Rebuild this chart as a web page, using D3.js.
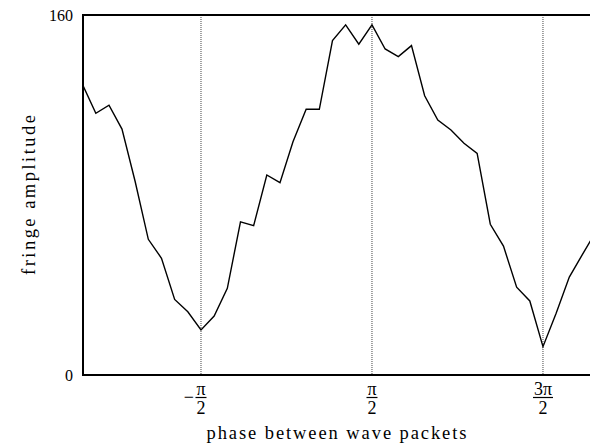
<!DOCTYPE html>
<html>
<head>
<meta charset="utf-8">
<script src="https://cdn.jsdelivr.net/npm/d3@7"></script>
<style>
  body { margin: 0; background: #fff; }
  text { font-family: "Liberation Serif", "Times New Roman", serif; fill: #000; }
</style>
</head>
<body>
<div id="fringe_chart"></div>
<script>
// phase of each measurement, in units of pi
var phases = [-1.192, -1.115, -1.038, -0.962, -0.885, -0.808, -0.731, -0.654, -0.577, -0.5,
              -0.423, -0.346, -0.269, -0.192, -0.115, -0.038, 0.038, 0.115, 0.192, 0.269,
              0.346, 0.423, 0.5, 0.577, 0.654, 0.731, 0.808, 0.885, 0.962, 1.038,
              1.115, 1.192, 1.269, 1.346, 1.423, 1.5, 1.577, 1.654, 1.731, 1.808];
// fringe amplitude
var amplitudes = [129, 116.3, 119.9, 109.3, 86, 60.3, 51.9, 33.6, 28.1, 20,
                  26.2, 38.5, 68.1, 66.4, 88.9, 85.5, 103.7, 118.1, 118.1, 148.6,
                  155.6, 147, 155.6, 144.9, 141.5, 146.4, 124.1, 113.3, 108.9, 103,
                  98.5, 67, 57.3, 39, 32.9, 12.6, 27.4, 43.5, 53.6, 63.5];
// x ticks (units of pi) and their fraction labels
var xTicks = [-0.5, 0.5, 1.5];
var xTickNum = ["\u03c0", "\u03c0", "3\u03c0"];
var xTickSign = ["\u2212", "", ""];
var yTicks = [0, 160];

function drawFringeChart() {
    var W = 590, H = 444;
    var margin = {top: 15, right: 0, bottom: 69, left: 83},
        width = W - margin.left - margin.right,
        height = H - margin.top - margin.bottom;

    var svg = d3.select("#fringe_chart")
      .append("svg")
        .attr("width", W)
        .attr("height", H)
      .append("g")
        .attr("transform", "translate(" + margin.left + "," + margin.top + ")");

    var x = d3.scaleLinear().domain([-1.19, 1.775]).range([0, width]);
    var y = d3.scaleLinear().domain([0, 160]).range([height, 0]);

    // dotted guide lines at the ticks
    svg.selectAll(".guide")
        .data(xTicks).enter()
      .append("line")
        .attr("class", "guide")
        .attr("x1", d => x(d)).attr("x2", d => x(d))
        .attr("y1", 0).attr("y2", height)
        .attr("stroke", "#444")
        .attr("stroke-width", 1)
        .attr("stroke-dasharray", "1,1");

    // clip for the curve
    svg.append("clipPath").attr("id", "clip")
      .append("rect").attr("width", width).attr("height", height);

    var data = phases.map(function(p, i) { return {p: p, v: amplitudes[i]}; });
    var line = d3.line()
        .x(d => x(d.p))
        .y(d => y(d.v));
    svg.append("path")
        .datum(data)
        .attr("clip-path", "url(#clip)")
        .attr("fill", "none")
        .attr("stroke", "#000")
        .attr("stroke-width", 1.4)
        .attr("d", line);

    // frame: left, bottom and top
    svg.append("path")
        .attr("d", "M" + (width + 5) + ",0H0V" + height + "H" + (width + 5))
        .attr("fill", "none")
        .attr("stroke", "#000")
        .attr("stroke-width", 2);

    // y labels
    svg.selectAll(".ylab")
        .data(yTicks).enter()
      .append("text")
        .attr("x", -10)
        .attr("y", d => y(d) + 5.5)
        .attr("text-anchor", "end")
        .style("font-size", "16px")
        .text(d => d);

    // x tick labels as fractions
    var tl = svg.selectAll(".xlab")
        .data(xTicks).enter()
      .append("g")
        .attr("transform", d => "translate(" + x(d) + "," + height + ")");
    tl.append("text")
        .attr("y", 20)
        .attr("text-anchor", "middle")
        .style("font-size", "18px")
        .text((d, i) => xTickNum[i]);
    tl.append("text")
        .attr("x", -7)
        .attr("y", 28)
        .attr("text-anchor", "end")
        .style("font-size", "18px")
        .text((d, i) => xTickSign[i]);
    tl.append("line")
        .attr("x1", (d, i) => i == 2 ? -10 : -5.5)
        .attr("x2", (d, i) => i == 2 ? 10 : 5.5)
        .attr("y1", 22.5).attr("y2", 22.5)
        .attr("stroke", "#000")
        .attr("stroke-width", 1.2);
    tl.append("text")
        .attr("y", 39)
        .attr("text-anchor", "middle")
        .style("font-size", "18px")
        .text("2");

    // axis titles
    svg.append("text")
        .attr("x", width / 2)
        .attr("y", height + 64)
        .attr("text-anchor", "middle")
        .attr("textLength", 260)
        .attr("lengthAdjust", "spacing")
        .style("font-size", "18.5px")
        .text("phase between wave packets");

    svg.append("text")
        .attr("transform", "rotate(-90)")
        .attr("x", -(195 - margin.top))
        .attr("y", 35 - margin.left)
        .attr("text-anchor", "middle")
        .attr("textLength", 160)
        .attr("lengthAdjust", "spacing")
        .style("font-size", "18.5px")
        .text("fringe amplitude");
}

drawFringeChart();
</script>
</body>
</html>
